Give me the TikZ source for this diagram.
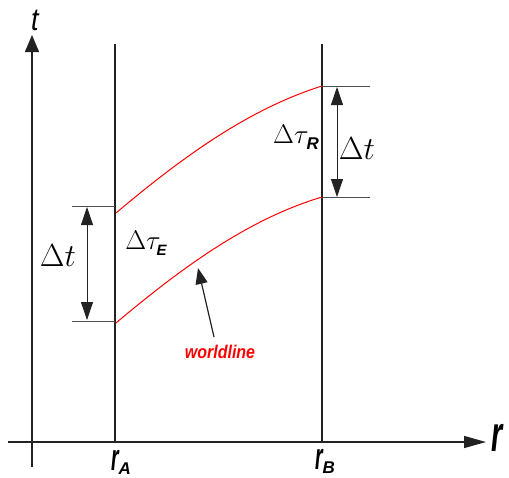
\RequirePackage{fix-cm}
\documentclass[tikz,border=0pt]{standalone}
\usepackage{fontspec}
\newfontfamily\labfont{Liberation Sans}
\usetikzlibrary{arrows.meta}
\definecolor{ink}{HTML}{222222}
\tikzset{
  axis/.style={line width=1.4pt, draw=ink},
  wall/.style={line width=1.6pt, draw=ink},
  tickl/.style={line width=0.8pt, draw=ink!80},
  wl/.style={line width=1pt, draw=red},
  dim/.style={line width=0.8pt, draw=ink, {Triangle[length=18pt,width=12pt]}-{Triangle[length=18pt,width=12pt]}},
  lab/.style={inner sep=0pt, font=\labfont\bfseries\itshape},
  mathlab/.style={inner sep=0pt}
}
\begin{document}
\begin{tikzpicture}[x=1pt,y=-1pt]
\useasboundingbox (0,0) rectangle (509,477);
% axes
\coordinate (t0) at (32,467);
\coordinate (t1) at (32,35);
\coordinate (r0) at (8,442);
\coordinate (r1) at (486,442);
\draw[axis,-{Triangle[length=17pt,width=14pt]}] (t0) -- (t1);
\draw[axis,-{Triangle[length=22pt,width=12pt]}] (r0) -- (r1);
\node[lab,font=\labfont\itshape\fontsize{30}{30}\selectfont,xscale=0.9,yscale=1.05] (tl) at (35,20) {t};
\node[lab,font=\labfont\bfseries\itshape\fontsize{36}{36}\selectfont,xscale=0.8,yscale=1.4] (rl) at (497,438) {r};
% walls
\coordinate (a0) at (115,442);
\coordinate (a1) at (115,44);
\coordinate (b0) at (322,442);
\coordinate (b1) at (322,44);
\draw[wall] (a0) -- (a1);
\draw[wall] (b0) -- (b1);
\node[lab] (rA) at (121,462) {\fontsize{30}{30}\selectfont\scalebox{0.65}[1.25]{r}\raisebox{-4pt}{\fontsize{17}{17}\selectfont A}};
\node[lab] (rB) at (325,461) {\fontsize{30}{30}\selectfont\scalebox{0.65}[1.25]{r}\raisebox{-4pt}{\fontsize{17}{17}\selectfont B}};
% worldlines
\coordinate (u0) at (116,213);
\coordinate (u1) at (322,86);
\coordinate (l0) at (116,323);
\coordinate (l1) at (322,197);
\draw[wl] (u0) .. controls (187,153) and (252,108) .. (u1);
\draw[wl] (l0) .. controls (187,263) and (252,218) .. (l1);
% right ticks
\coordinate (rt1) at (370,86);
\coordinate (rt2) at (370,197);
\draw[tickl] (u1) -- (rt1);
\draw[tickl] (l1) -- (rt2);
\coordinate (rd1) at (337,87);
\coordinate (rd2) at (337,197);
\draw[dim] (rd1) -- (rd2);
% left ticks
\coordinate (lt1a) at (72,206);
\coordinate (lt1b) at (115,206);
\coordinate (lt2a) at (72,321);
\coordinate (lt2b) at (115,321);
\draw[tickl] (lt1a) -- (lt1b);
\draw[tickl] (lt2a) -- (lt2b);
\coordinate (ld1) at (87,207);
\coordinate (ld2) at (87,320);
\draw[dim] (ld1) -- (ld2);
% labels
\node[mathlab] (dtR) at (357,149) {\fontsize{32}{32}\selectfont$\Delta t$};
\node[mathlab] (dtL) at (58,256) {\fontsize{32}{32}\selectfont$\Delta t$};
\node[mathlab] (tauR) at (296,137) {\fontsize{27}{27}\selectfont$\Delta\tau$\hspace{-2pt}\raisebox{-6pt}{\labfont\bfseries\itshape\fontsize{17}{17}\selectfont R}};
\node[mathlab] (tauE) at (146,243) {\fontsize{27}{27}\selectfont$\Delta\tau$\hspace{-4pt}\raisebox{-6pt}{\labfont\bfseries\itshape\fontsize{15}{15}\selectfont E}};
% worldline pointer
\node[lab,text=red,font=\labfont\bfseries\itshape\fontsize{16}{16}\selectfont,yscale=1.15] (wlab) at (220,352) {worldline};
\coordinate (wtail) at (214,337);
\coordinate (wtip) at (198,268);
\draw[line width=1.2pt,draw=ink,-{Triangle[length=16pt,width=12pt]}] (wtail) -- (wtip);
\end{tikzpicture}
\end{document}
